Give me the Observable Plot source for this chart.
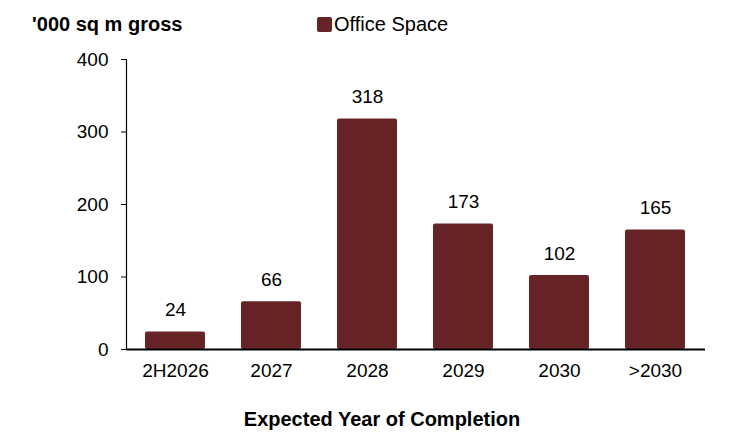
<!DOCTYPE html>
<html>
<head>
<meta charset="utf-8">
<script src="https://cdn.jsdelivr.net/npm/d3@7"></script>
<script src="https://cdn.jsdelivr.net/npm/@observablehq/plot@0.6"></script>
<style>
  html, body { margin: 0; padding: 0; background: #fff; }
  #wrap { width: 736px; height: 432px; font-family: "Liberation Sans", Arial, sans-serif; color: #000; }
  #head { position: relative; height: 44px; }
  #title { position: absolute; left: 32px; top: 11px; font-size: 20px; font-weight: bold; line-height: 26px; }
  #legend { position: absolute; left: 317px; top: 11px; font-size: 20px; line-height: 26px; display: flex; align-items: center; }
  #legend .sw { width: 15px; height: 15px; border-radius: 2px; background: #662426; margin-right: 2px; }
</style>
</head>
<body>
<div id="wrap">
  <div id="head">
    <div id="title">'000 sq m gross</div>
    <div id="legend"><span class="sw"></span><span>Office Space</span></div>
  </div>
  <div id="chart"></div>
</div>
<script>
// Office space pipeline by expected year of completion
const years = ["2H2026", "2027", "2028", "2029", "2030", ">2030"];
const officeSpace = [24, 66, 318, 173, 102, 165];
const yTicks = [0, 100, 200, 300, 400];

const rows = years.map((year, i) => ({year, value: officeSpace[i]}));
const barColor = "#662426";

const chart = Plot.plot({
  width: 736,
  height: 388,
  marginTop: 15,
  marginBottom: 83,
  marginLeft: 126,
  marginRight: 31,
  style: {fontFamily: "'Liberation Sans', Arial, sans-serif", fontSize: "19px", color: "#000", background: "#fff"},
  x: {domain: years, paddingInner: 0.37, paddingOuter: 0.185, label: null},
  y: {domain: [0, 400], ticks: yTicks, label: null},
  marks: [
    Plot.barY(rows, {x: "year", y: "value", fill: barColor, rx: 2}),
    Plot.text(rows, {x: "year", y: "value", text: d => String(d.value), lineAnchor: "bottom", dy: -16, fontSize: 19, fill: "#000"}),
    Plot.axisY({ticks: yTicks, tickSize: 5, tickPadding: 13, fontSize: 19, stroke: "#000", label: null}),
    Plot.frame({anchor: "left", stroke: "#000", strokeWidth: 1.2}),
    Plot.axisX({tickSize: 0, tickPadding: 14, fontSize: 19, label: null}),
    Plot.ruleY([0], {stroke: "#000", strokeWidth: 2}),
    Plot.text(["Expected Year of Completion"], {frameAnchor: "bottom", dx: -34, dy: 76, fontSize: 20, fontWeight: "bold", fill: "#000"})
  ]
});
document.getElementById("chart").appendChild(chart);
</script>
</body>
</html>
